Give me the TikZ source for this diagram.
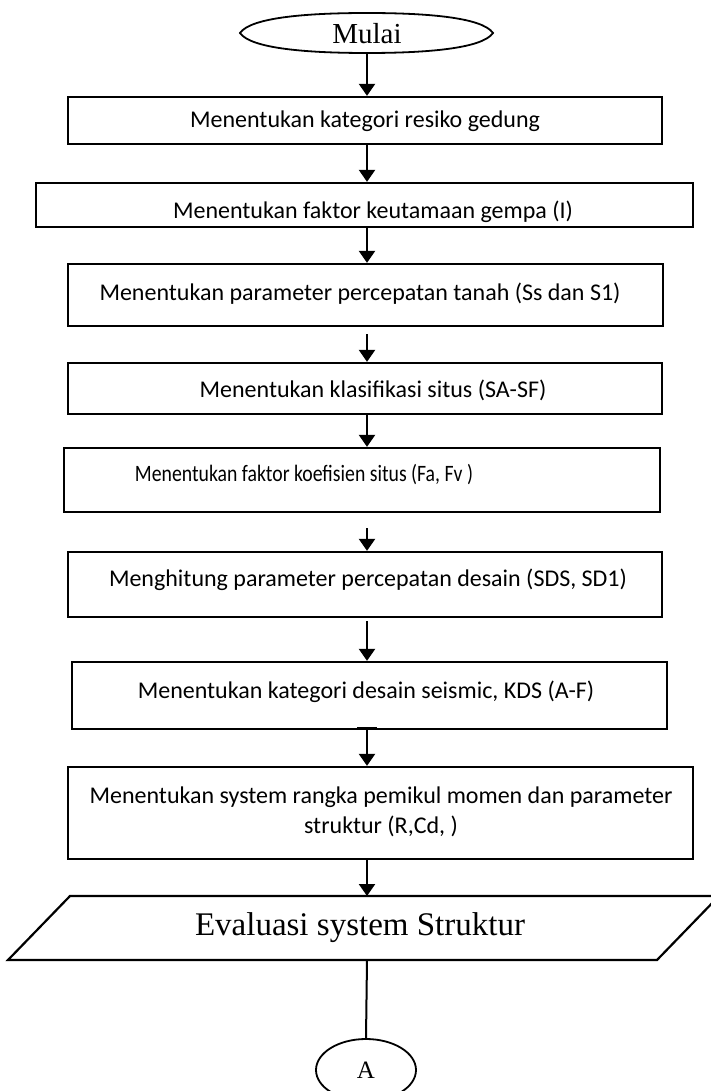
\documentclass[tikz,border=0pt]{standalone}
\usepackage{fontspec}
\setmainfont{Liberation Serif}
\newfontfamily\calfont{Carlito}
\newfontfamily\calcond[FakeStretch=0.84]{Carlito}
\usetikzlibrary{arrows.meta,shapes.geometric}
\begin{document}
\begin{tikzpicture}[x=1pt,y=-1pt,
 box/.style={draw, line width=2.3pt, inner sep=0pt},
 txt/.style={font=\calfont\fontsize{24}{30}\selectfont, inner sep=0pt, align=center},
 arr/.style={line width=2.3pt, -{Triangle[width=16pt,length=12pt]}},
 link/.style={line width=2pt},
 tbar/.style={line width=2pt},
]
\useasboundingbox (0,0) rectangle (710,1091);
% start terminator
\draw[line width=1.8pt] (240,33) .. controls (251,17) and (310,13) .. (367,13)
  .. controls (424,13) and (482,17) .. (493,33)
  .. controls (482,49) and (424,53) .. (367,53)
  .. controls (310,53) and (251,49) .. (240,33) -- cycle;
\node[font=\fontsize{29}{29}\selectfont, inner sep=0pt] (mulai) at (367,34) {Mulai};
\coordinate (mbot) at (367,53);
% boxes
\node[box, minimum width=594pt, minimum height=47pt] (b1) at (365,120.5) {};
\node[box, minimum width=657pt, minimum height=44pt] (b2) at (364.5,205) {};
\node[box, minimum width=595pt, minimum height=62pt] (b3) at (365.5,295) {};
\node[box, minimum width=594pt, minimum height=51pt] (b4) at (365,388.5) {};
\node[box, minimum width=596pt, minimum height=64pt] (b5) at (362,480) {};
\node[box, minimum width=594pt, minimum height=65pt] (b6) at (365,584.5) {};
\node[box, minimum width=595pt, minimum height=67pt] (b7) at (369.5,695.5) {};
\node[box, minimum width=625pt, minimum height=92pt] (b8) at (380.5,813) {};
% texts
\node[txt] (t1) at (365,121) {Menentukan kategori resiko gedung};
\node[txt] (t2) at (373,212) {Menentukan faktor keutamaan gempa (I)};
\node[txt] (t3) at (360,294) {Menentukan parameter percepatan tanah (Ss dan S1)};
\node[txt] (t4) at (373,390) {Menentukan klasifikasi situs (SA-SF)};
\node[txt, font=\calcond\fontsize{23.5}{28}\selectfont] (t5) at (304,475) {Menentukan faktor koefisien situs (Fa, Fv )};
\node[txt] (t6) at (368,580) {Menghitung parameter percepatan desain (SDS, SD1)};
\node[txt] (t7) at (366,692) {Menentukan kategori desain seismic, KDS (A-F)};
\node[txt] (t8) at (381,812) {Menentukan system rangka pemikul momen dan parameter\\struktur (R,Cd, )};
% parallelogram
\coordinate (ptop) at (367,896);
\coordinate (pbot) at (367,960);
\draw[line width=2.2pt] (8,960) -- (70,896) -- (719,896) -- (657,960) -- cycle;
\node[font=\fontsize{33}{33}\selectfont, inner sep=0pt] (para) at (360,928) {Evaluasi system Struktur};
% connector A
\node[draw, ellipse, line width=1.8pt, minimum width=100pt, minimum height=62pt, inner sep=0pt,
      font=\fontsize{25}{25}\selectfont] (A) at (366,1070) {A};
% arrows
\draw[arr] (mbot) -- (b1.north -| mulai);
\draw[arr] (b1.south -| mulai) -- (b2.north -| mulai);
\draw[arr] (b2.south -| mulai) -- (b3.north -| mulai);
\draw[arr] ([yshift=-7pt]b3.south -| mulai) -- (b4.north -| mulai);
\draw[arr] (b4.south -| mulai) -- (b5.north -| mulai);
\draw[arr] ([yshift=-15pt]b5.south -| mulai) -- (b6.north -| mulai);
\draw[arr] ([yshift=-3pt]b6.south -| mulai) -- (b7.north -| mulai);
\draw[arr] ([yshift=2.5pt]b7.south -| mulai) -- (b8.north -| mulai);
\draw[tbar] ([xshift=-10pt,yshift=2.5pt]b7.south -| mulai) -- ([xshift=10pt,yshift=2.5pt]b7.south -| mulai);
\draw[arr] ([yshift=1pt]b8.south -| mulai) -- (ptop);
\draw[tbar] ([xshift=-10pt,yshift=1pt]b8.south -| mulai) -- ([xshift=10pt,yshift=1pt]b8.south -| mulai);
\draw[link] (pbot) -- (A.north);
\end{tikzpicture}
\end{document}
